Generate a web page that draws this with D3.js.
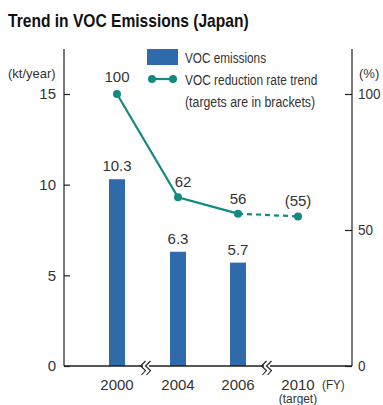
<!DOCTYPE html>
<html>
<head>
<meta charset="utf-8">
<script src="https://cdn.jsdelivr.net/npm/d3@7/dist/d3.min.js"></script>
<style>
  html, body { margin: 0; padding: 0; background: #fff; }
  svg { display: block; }
  text { font-family: "Liberation Sans Narrow", "Liberation Sans", Arial, sans-serif; fill: #231f20; }
</style>
</head>
<body>
<svg id="chart" width="383" height="405"></svg>
<script>
// Fiscal years shown on the horizontal axis
const years = ["2000", "2004", "2006", "2010"];
// VOC emissions (kt/year); no bar for the 2010 target year
const emissions = [10.3, 6.3, 5.7, null];
// Reduction rate trend (%), 2000 = 100; the 2010 value is a target
const rates = [100, 62, 56, 55];
const rateLabels = ["100", "62", "56", "(55)"];
const leftTicks = [0, 5, 10, 15];
const rightTicks = [0, 50, 100];

const svg = d3.select("#chart");
const teal = "#13897f", blue = "#2f6aab", ink = "#231f20", txt = "#333";

// The year axis is broken between 2000/2004 and 2006/2010, so centres are set per year
const xc = d3.scaleOrdinal().domain(years).range([117, 178, 238, 298]);
const yL = d3.scaleLinear().domain([0, 15]).range([366, 94]);
const yR = d3.scaleLinear().domain([0, 100]).range([366, 94]);

// Squeeze a text element horizontally to mimic a condensed typeface
function condense(sel, k) {
  sel.each(function () {
    const w = this.getComputedTextLength();
    d3.select(this).attr("textLength", w * k).attr("lengthAdjust", "spacingAndGlyphs");
  });
  return sel;
}

// Title
svg.append("text").attr("x", 8).attr("y", 27)
  .attr("font-size", 19).attr("font-weight", "bold").style("fill", "#111")
  .text("Trend in VOC Emissions (Japan)").call(condense, 0.82);

// Left axis
const gL = svg.append("g").attr("transform", "translate(64,0)")
  .call(d3.axisLeft(yL).tickValues(leftTicks).tickSizeInner(-6).tickSizeOuter(0).tickPadding(8));
gL.select(".domain").attr("d", "M0,49V366");
gL.selectAll("line, path").attr("stroke", ink).attr("stroke-width", 1.2);
gL.selectAll("text").attr("font-size", 15).attr("font-family", null).style("fill", txt);

// Right axis
const gR = svg.append("g").attr("transform", "translate(352,0)")
  .call(d3.axisRight(yR).tickValues(rightTicks).tickSizeInner(-7).tickSizeOuter(0).tickPadding(6));
gR.select(".domain").attr("d", "M0,49V366");
gR.selectAll("line, path").attr("stroke", ink).attr("stroke-width", 1.2);
gR.selectAll("text").attr("font-size", 15).attr("font-family", null).style("fill", txt).call(condense, 0.9);

// Unit labels
svg.append("text").attr("x", 8).attr("y", 78).attr("font-size", 13).style("fill", txt).text("(kt/year)");
svg.append("text").attr("x", 359).attr("y", 78).attr("font-size", 13).style("fill", txt).text("(%)");

// Bars
const barData = years.map((y, i) => ({ year: y, v: emissions[i] })).filter(d => d.v != null);
svg.append("g").selectAll("rect").data(barData).join("rect")
  .attr("x", d => xc(d.year) - 8).attr("width", 16)
  .attr("y", d => yL(d.v)).attr("height", d => yL(0) - yL(d.v))
  .attr("fill", blue);
svg.append("g").selectAll("text").data(barData).join("text")
  .attr("x", d => xc(d.year)).attr("y", d => yL(d.v) - 8)
  .attr("text-anchor", "middle").attr("font-size", 15).style("fill", txt)
  .text(d => d.v.toFixed(1));

// Bottom axis line with break marks
svg.append("line").attr("x1", 64).attr("x2", 352).attr("y1", 366).attr("y2", 366)
  .attr("stroke", ink).attr("stroke-width", 1.4);
[146, 267].forEach(bx => {
  svg.append("rect").attr("x", bx - 3).attr("y", 362).attr("width", 6).attr("height", 8).attr("fill", "#fff");
  [-2.5, 2.5].forEach(dx => {
    svg.append("path")
      .attr("d", `M${bx + dx + 2},361 L${bx + dx - 3},366 L${bx + dx + 2},370.5 L${bx + dx - 2},375`)
      .attr("fill", "none").attr("stroke", ink).attr("stroke-width", 1.1);
  });
});

// Year labels
svg.append("g").selectAll("text").data(years).join("text")
  .attr("x", d => xc(d)).attr("y", 390).attr("text-anchor", "middle")
  .attr("font-size", 15).style("fill", txt).text(d => d);
svg.append("text").attr("x", 322).attr("y", 389).attr("font-size", 13).style("fill", txt)
  .text("(FY)").call(condense, 0.9);
svg.append("text").attr("x", xc("2010")).attr("y", 403).attr("text-anchor", "middle")
  .attr("font-size", 12.5).style("fill", txt).text("(target)").call(condense, 0.95);

// Reduction rate line: solid for actuals, dashed toward the target
const pts = years.map((y, i) => ({ year: y, v: rates[i], label: rateLabels[i] }));
const line = d3.line().x(d => xc(d.year)).y(d => yR(d.v));
svg.append("path").datum(pts.slice(0, 3)).attr("d", line)
  .attr("fill", "none").attr("stroke", teal).attr("stroke-width", 2.2);
svg.append("path").datum(pts.slice(2)).attr("d", line)
  .attr("fill", "none").attr("stroke", teal).attr("stroke-width", 2.2).attr("stroke-dasharray", "5,4");
svg.append("g").selectAll("circle").data(pts).join("circle")
  .attr("cx", d => xc(d.year)).attr("cy", d => yR(d.v)).attr("r", 4).attr("fill", teal);
const labelDx = [0, 5, 0, 0];
svg.append("g").selectAll("text").data(pts).join("text")
  .attr("x", (d, i) => xc(d.year) + labelDx[i]).attr("y", (d, i) => yR(d.v) - (i === 0 ? 12 : 10))
  .attr("text-anchor", "middle").attr("font-size", 15).style("fill", txt)
  .text(d => d.label);

// Legend
svg.append("rect").attr("x", 147).attr("y", 49).attr("width", 31).attr("height", 16).attr("fill", blue);
svg.append("text").attr("x", 185).attr("y", 63).attr("font-size", 14).style("fill", txt)
  .text("VOC emissions").call(condense, 0.84);
svg.append("line").attr("x1", 152).attr("x2", 173).attr("y1", 79).attr("y2", 79)
  .attr("stroke", teal).attr("stroke-width", 2.2);
[152, 173].forEach(cx => svg.append("circle").attr("cx", cx).attr("cy", 79).attr("r", 4).attr("fill", teal));
svg.append("text").attr("x", 185).attr("y", 85).attr("font-size", 14).style("fill", txt)
  .text("VOC reduction rate trend").call(condense, 0.85);
svg.append("text").attr("x", 185).attr("y", 107).attr("font-size", 14).style("fill", txt)
  .text("(targets are in brackets)").call(condense, 0.88);
</script>
</body>
</html>
